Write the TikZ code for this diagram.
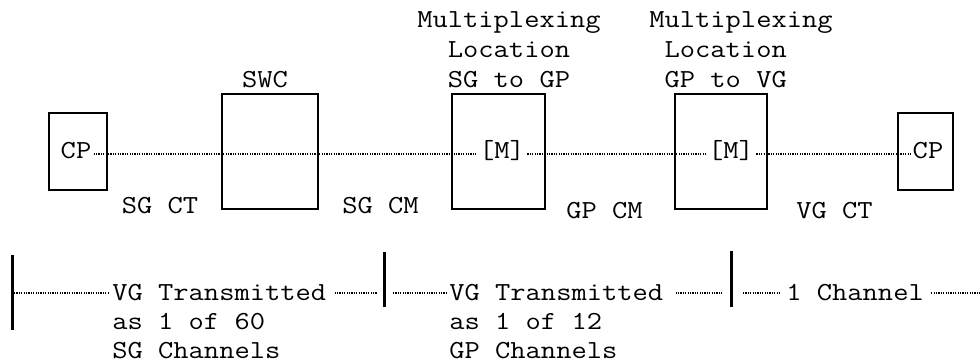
\documentclass[tikz,border=0pt]{standalone}
\usepackage{fontspec}
\newfontfamily\cour[FakeStretch=1.14]{Latin Modern Mono}
\usetikzlibrary{positioning,calc}
\begin{document}
\begin{tikzpicture}[x=0.5pt,y=-0.5pt, font=\cour\fontsize{13}{15}\selectfont,
  bx/.style={draw,line width=1.2pt,inner sep=0pt}, tag/.style={inner sep=1pt,text height=8pt,text depth=4pt},
  note/.style={align=left,anchor=base west,inner sep=0pt,font=\cour\fontsize{13}{14.5}\selectfont},
  dl/.style={line width=0.6pt,dash pattern=on 0.6pt off 0.6pt}, bar/.style={line width=1.5pt}]
  \useasboundingbox (0,0) rectangle (980,364);
  % boxes
  \node[bx,minimum width=29pt,minimum height=38.5pt](cp0) at (78,151.5){};
  \node[bx,minimum width=48pt,minimum height=57.5pt](swc) at (270,151.5){};
  \node[bx,minimum width=46.5pt,minimum height=57.5pt](mux1) at (498.5,151.5){};
  \node[bx,minimum width=46pt,minimum height=57.5pt](mux2) at (721,151.5){};
  \node[bx,minimum width=27.5pt,minimum height=38.5pt](cp1) at (925.5,151.5){};
  % texts on the line
  \node[tag](t0) at (76,154){CP};
  \node[tag](t1) at (502,154){[M]};
  \node[tag](t2) at (731,154){[M]};
  \node[tag](t3) at (928,154){CP};
  \draw[dl](t0)--(t1);\draw[dl](t1)--(t2);\draw[dl](t2)--(t3);
  % labels (base = last line)
  \node[anchor=base](swcl) at (265,87){SWC};
  \node[anchor=base west,align=center,inner sep=0pt](mx1) at (417,87){Multiplexing\\Location\\SG to GP};
  \node[anchor=base west,align=left,inner sep=0pt](mx2) at (649,87){Multiplexing\\\phantom{M}Location\\\phantom{M}GP to VG};
  \node[anchor=base](sgct) at (160,213){SG CT};
  \node[anchor=base](sgcm) at (380.5,213){SG CM};
  \node[anchor=base](gpcm) at (604.5,218){GP CM};
  \node[anchor=base](vgct) at (834.5,218){VG CT};
  % channel spans
  \coordinate(j0) at (12,293); \coordinate(j1) at (384,293); \coordinate(j2) at (731,293); \coordinate(j3) at (980,293);
  \draw[bar]($(j0)+(0,-38)$)--($(j0)+(0,37)$);
  \draw[bar]($(j1)+(0,-41)$)--($(j1)+(0,14)$);
  \draw[bar]($(j2)+(0,-42)$)--($(j2)+(0,14)$);
  \node[note](n0) at (112,358){VG Transmitted\\as 1 of 60\\SG Channels};
  \node[note](n1) at (449,358){VG Transmitted\\as 1 of 12\\GP Channels};
  \node[note](n2) at (786,300){1 Channel};
  \draw[dl]($(j0)+(2,0)$)--($(j0 -| n0.west)+(-4,0)$);
  \draw[dl]($(j1 -| n0.east)+(8,0)$)--($(j1)+(-7,0)$);
  \draw[dl]($(j1)+(9,0)$)--($(j1 -| n1.west)+(-1,0)$);
  \draw[dl]($(j2 -| n1.east)+(12,0)$)--($(j2)+(-9,0)$);
  \draw[dl]($(j2)+(12,0)$)--($(j2 -| n2.west)+(-6,0)$);
  \draw[dl]($(j3 -| n2.east)+(7,0)$)--(j3);
\end{tikzpicture}
\end{document}
